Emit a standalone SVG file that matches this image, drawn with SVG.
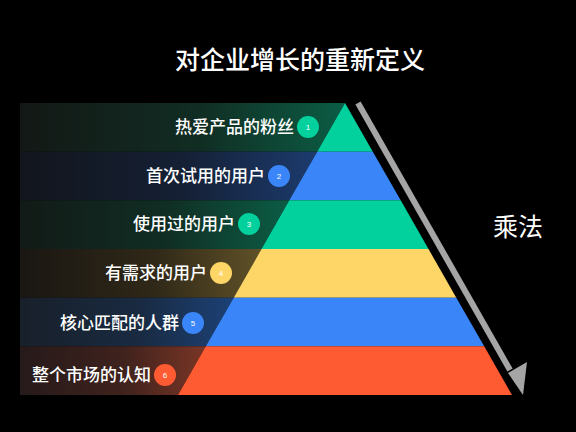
<svg xmlns="http://www.w3.org/2000/svg" width="576" height="432" viewBox="0 0 576 432">
<defs>
<linearGradient id="g1" x1="0" y1="0" x2="1" y2="0"><stop offset="0" stop-color="#131815"/><stop offset="0.55" stop-color="#112D23"/><stop offset="1" stop-color="#0B5D45"/></linearGradient>
<linearGradient id="g2" x1="0" y1="0" x2="1" y2="0"><stop offset="0" stop-color="#12151c"/><stop offset="0.55" stop-color="#152035"/><stop offset="1" stop-color="#1C3B6E"/></linearGradient>
<linearGradient id="g3" x1="0" y1="0" x2="1" y2="0"><stop offset="0" stop-color="#121a16"/><stop offset="0.55" stop-color="#102E24"/><stop offset="1" stop-color="#0B5D45"/></linearGradient>
<linearGradient id="g4" x1="0" y1="0" x2="1" y2="0"><stop offset="0" stop-color="#1a1612"/><stop offset="0.55" stop-color="#2F2818"/><stop offset="1" stop-color="#605127"/></linearGradient>
<linearGradient id="g5" x1="0" y1="0" x2="1" y2="0"><stop offset="0" stop-color="#18202a"/><stop offset="0.55" stop-color="#192A41"/><stop offset="1" stop-color="#1C4176"/></linearGradient>
<linearGradient id="g6" x1="0" y1="0" x2="1" y2="0"><stop offset="0" stop-color="#261a1a"/><stop offset="0.55" stop-color="#3F221D"/><stop offset="1" stop-color="#7A3525"/></linearGradient>
</defs>
<style>
.lbl{font-family:"Noto Sans CJK SC","Noto Sans",sans-serif;font-size:17px;font-weight:500;fill:#ffffff;text-anchor:end}
.num{font-family:"Liberation Sans","Noto Sans",sans-serif;font-size:8px;fill:#ffffff;text-anchor:middle}
.ttl{font-family:"Noto Sans CJK SC","Noto Sans",sans-serif;font-size:25px;font-weight:500;fill:#ffffff;text-anchor:middle}
.green{fill:#02D09D}.blue{fill:#3A86F8}.yellow{fill:#FDD667}.orange{fill:#FF5B33}
</style>
<rect x="0" y="0" width="576" height="432" fill="#000000"/>
<text class="ttl" x="300" y="69">对企业增长的重新定义</text>

<g id="band1">
<polygon points="20,103 345,103 317.2,151.7 20,151.7" fill="url(#g1)"/>
<polygon class="green" points="345,103 372.8,151.7 317.2,151.7"/>
<text class="lbl" x="294" y="133">热爱产品的粉丝</text>
<circle class="green" cx="308" cy="127" r="11"/>
<text class="num" x="308" y="130">1</text>
</g>
<g id="band2">
<polygon points="20,151.7 317.2,151.7 289.3,200.3 20,200.3" fill="url(#g2)"/>
<polygon class="blue" points="317.2,151.7 372.8,151.7 400.7,200.3 289.3,200.3"/>
<text class="lbl" x="265" y="182">首次试用的用户</text>
<circle class="blue" cx="279" cy="176" r="11"/>
<text class="num" x="279" y="179">2</text>
</g>
<g id="band3">
<polygon points="20,200.3 289.3,200.3 261.5,249 20,249" fill="url(#g3)"/>
<polygon class="green" points="289.3,200.3 400.7,200.3 428.5,249 261.5,249"/>
<text class="lbl" x="235" y="230">使用过的用户</text>
<circle class="green" cx="249" cy="224" r="11"/>
<text class="num" x="249" y="227">3</text>
</g>
<g id="band4">
<polygon points="20,249 261.5,249 233.7,297.7 20,297.7" fill="url(#g4)"/>
<polygon class="yellow" points="261.5,249 428.5,249 456.3,297.7 233.7,297.7"/>
<text class="lbl" x="207" y="279">有需求的用户</text>
<circle class="yellow" cx="221" cy="273" r="11"/>
<text class="num" x="221" y="276">4</text>
</g>
<g id="band5">
<polygon points="20,297.7 233.7,297.7 205.8,346.3 20,346.3" fill="url(#g5)"/>
<polygon class="blue" points="233.7,297.7 456.3,297.7 484.2,346.3 205.8,346.3"/>
<text class="lbl" x="179" y="329">核心匹配的人群</text>
<circle class="blue" cx="193" cy="323" r="11"/>
<text class="num" x="193" y="326">5</text>
</g>
<g id="band6">
<polygon points="20,346.3 205.8,346.3 178,395 20,395" fill="url(#g6)"/>
<polygon class="orange" points="205.8,346.3 484.2,346.3 512,395 178,395"/>
<text class="lbl" x="151" y="381">整个市场的认知</text>
<circle class="orange" cx="165" cy="375" r="11"/>
<text class="num" x="165" y="378">6</text>
</g>

<g id="connectors">
<line x1="358" y1="103" x2="510" y2="370" stroke="#A5A5A5" stroke-width="6"/>
<polygon points="523,395 527,362 508,373" fill="#A5A5A5"/>
</g>
<g id="label-multiply">
<text class="ttl" x="518" y="236" style="font-weight:400">乘法</text>
</g>
</svg>
